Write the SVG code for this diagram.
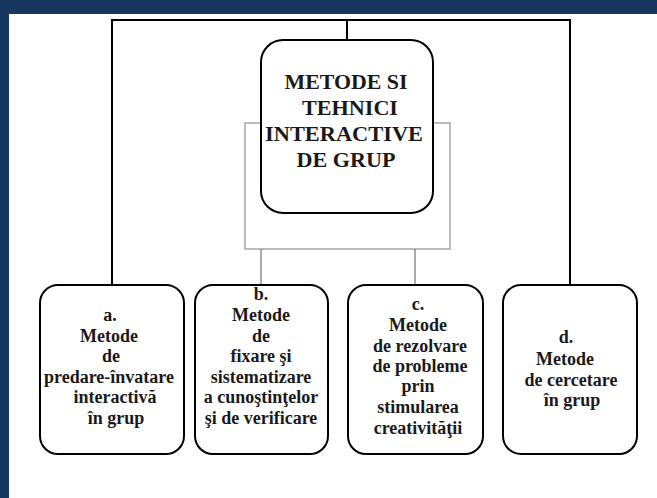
<svg xmlns="http://www.w3.org/2000/svg" width="657" height="498" viewBox="0 0 657 498">
<style>
.box{fill:#fff;stroke:#000;stroke-width:2}
.conn{fill:none;stroke:#000;stroke-width:2}
.thin{fill:none;stroke:#555;stroke-width:1}
.gray{fill:none;stroke:#a6a6a6;stroke-width:1.5}
text{font-family:'Liberation Serif','Times New Roman',serif;font-weight:bold;fill:#1a1a1a;text-anchor:middle}
.big{font-size:20px}
.sm{font-size:18px}
</style>
<rect x="0" y="0" width="657" height="498" fill="#fff"/>
<rect x="0" y="0" width="657" height="14" fill="#17375e"/>
<rect x="0" y="0" width="9" height="498" fill="#17375e"/>
<g id="connectors">
<path class="conn" d="M112,286 V20 H570 V286"/>
<path class="conn" d="M347,20 V41"/>
<rect class="gray" x="245" y="123" width="205" height="126"/>
<path class="thin" d="M261,249 V286 M415,249 V286"/>
</g>
<g id="center">
<rect class="box" x="261" y="40" width="172" height="173" rx="22"/>
<text class="big" x="346" y="89" textLength="123" lengthAdjust="spacingAndGlyphs">METODE SI</text>
<text class="big" x="350" y="115" textLength="96" lengthAdjust="spacingAndGlyphs">TEHNICI</text>
<text class="big" x="344" y="141" textLength="158" lengthAdjust="spacingAndGlyphs">INTERACTIVE</text>
<text class="big" x="346" y="167" textLength="99" lengthAdjust="spacingAndGlyphs">DE GRUP</text>
</g>
<g id="node-a">
<rect class="box" x="40" y="285" width="144" height="169" rx="18"/>
<text class="sm" x="110" y="321">a.</text>
<text class="sm" x="109" y="342">Metode</text>
<text class="sm" x="111" y="362">de</text>
<text class="sm" x="109" y="383">predare-învatare</text>
<text class="sm" x="115" y="403">interactivă</text>
<text class="sm" x="116" y="424">în grup</text>
</g>
<g id="node-b">
<rect class="box" x="195" y="285" width="133" height="169" rx="18"/>
<text class="sm" x="261" y="300">b.</text>
<text class="sm" x="261" y="321">Metode</text>
<text class="sm" x="261" y="342">de</text>
<text class="sm" x="261" y="362">fixare şi</text>
<text class="sm" x="261" y="383">sistematizare</text>
<text class="sm" x="261" y="403">a cunoştinţelor</text>
<text class="sm" x="261" y="424">şi de verificare</text>
</g>
<g id="node-c">
<rect class="box" x="348" y="285" width="135" height="169" rx="18"/>
<text class="sm" x="418" y="310">c.</text>
<text class="sm" x="418" y="331">Metode</text>
<text class="sm" x="420" y="352">de rezolvare</text>
<text class="sm" x="420" y="372">de probleme</text>
<text class="sm" x="418" y="392">prin</text>
<text class="sm" x="418" y="413">stimularea</text>
<text class="sm" x="418" y="434">creativităţii</text>
</g>
<g id="node-d">
<rect class="box" x="503" y="285" width="134" height="169" rx="18"/>
<text class="sm" x="566" y="343">d.</text>
<text class="sm" x="565" y="365">Metode</text>
<text class="sm" x="571" y="386">de cercetare</text>
<text class="sm" x="572" y="406">în grup</text>
</g>
</svg>
